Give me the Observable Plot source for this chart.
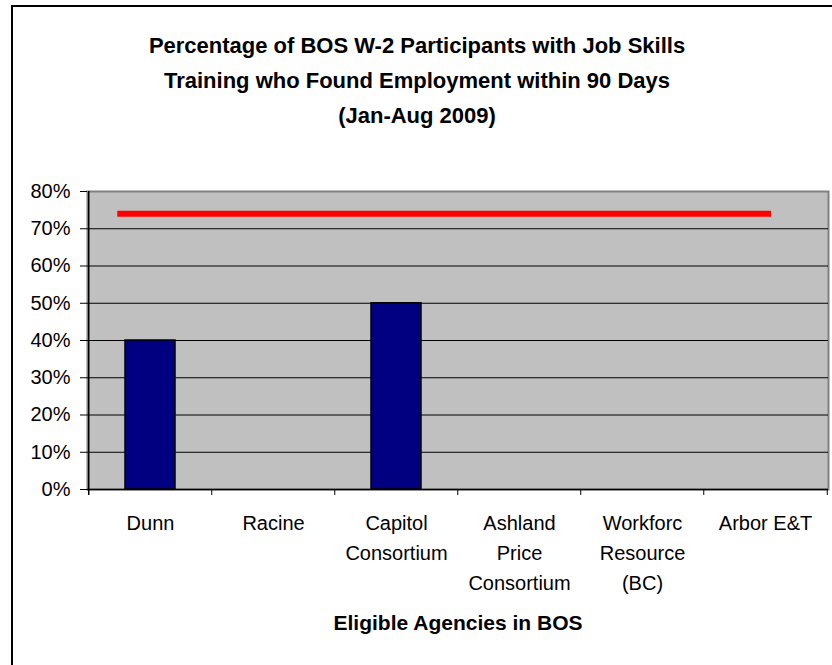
<!DOCTYPE html>
<html><head><meta charset="utf-8">
<script src="https://cdn.jsdelivr.net/npm/d3@7"></script>
<script src="https://cdn.jsdelivr.net/npm/@observablehq/plot@0.6"></script>
<style>
body{margin:0;background:#fff;font-family:"Liberation Sans",Arial,sans-serif;}
#wrap{position:relative;width:832px;height:665px;overflow:hidden;}
#border{position:absolute;left:11px;top:5px;width:840px;height:680px;border-left:2px solid #000;border-top:2px solid #000;}
#title{position:absolute;left:0;top:28px;width:834px;text-align:center;font-weight:bold;font-size:22px;line-height:35px;color:#000;}
#chart{position:absolute;left:0;top:150px;}
</style></head>
<body><div id="wrap"><div id="border"></div><div id="title"></div><div id="chart"></div></div>
<script>
const titleLines = ["Percentage of BOS W-2 Participants with Job Skills", "Training who Found Employment within 90 Days", "(Jan-Aug 2009)"];
const categories = ["Dunn", "Racine", "Capitol Consortium", "Ashland Price Consortium", "Workforc Resource (BC)", "Arbor E&T"];
const tickLabels = ["Dunn", "Racine", "Capitol\nConsortium", "Ashland\nPrice\nConsortium", "Workforc\nResource\n(BC)", "Arbor E&T"];
const values = [0.40, 0, 0.50, 0, 0, 0];
const target = 0.74;
const yTicks = [0, 0.1, 0.2, 0.3, 0.4, 0.5, 0.6, 0.7, 0.8];
const xAxisTitle = "Eligible Agencies in BOS";

document.getElementById("title").innerHTML = titleLines.map(t => t.replace(/&/g, "&amp;")).join("<br>");

const W = 832, H = 500, ml = 87, mr = 4, mt = 41, mb = 161;
const step = (W - ml - mr) / categories.length;
const data = categories.map((c, i) => ({agency: c, value: values[i]}));
const labelOf = new Map(categories.map((c, i) => [c, tickLabels[i]]));

const plot = Plot.plot({
  width: W, height: H, marginLeft: ml, marginRight: mr, marginTop: mt, marginBottom: mb,
  style: {fontFamily: '"Liberation Sans", Arial, sans-serif', fontSize: "20px", color: "#000", background: "transparent", overflow: "visible"},
  x: {domain: categories, paddingInner: 0.595, paddingOuter: 0.2975, label: null},
  y: {domain: [0, 0.8], label: null},
  marks: [
    Plot.frame({fill: "#c0c0c0", stroke: "#808080", strokeWidth: 2}),
    Plot.ruleY(yTicks.filter(d => d > 0 && d < 0.8), {stroke: "#000", strokeWidth: 1.2}),
    Plot.barY(data, {x: "agency", y: "value", fill: "#000080", stroke: "#000", strokeWidth: 1.5}),
    Plot.ruleY([target], {x1: () => categories[0], x2: () => categories[categories.length - 1], stroke: "#ff0000", strokeWidth: 6, insetLeft: -7.75, insetRight: 19}),
    Plot.ruleY([0], {stroke: "#000", strokeWidth: 1.5}),
    Plot.ruleX([categories[0]], {dx: -step / 2, y1: -0.016, y2: 0.8, stroke: "#000", strokeWidth: 1.5}),
    Plot.ruleX(categories.slice(1), {dx: -step / 2, y1: -0.016, y2: 0, stroke: "#000"}),
    Plot.ruleX([categories[categories.length - 1]], {dx: step / 2, y1: -0.016, y2: 0, stroke: "#000"}),
    Plot.axisY({ticks: yTicks, tickFormat: d3.format(".0%"), tickSize: 7, tickPadding: 10, fontSize: 20, label: null}),
    Plot.axisX({tickSize: 0, tickPadding: 19, fontSize: 20, lineHeight: 1.5, tickFormat: d => labelOf.get(d), label: null}),
    Plot.text([xAxisTitle], {frameAnchor: "bottom", dy: 140, fontWeight: "bold", fontSize: 21})
  ]
});
document.getElementById("chart").appendChild(plot);
</script>
</body></html>
